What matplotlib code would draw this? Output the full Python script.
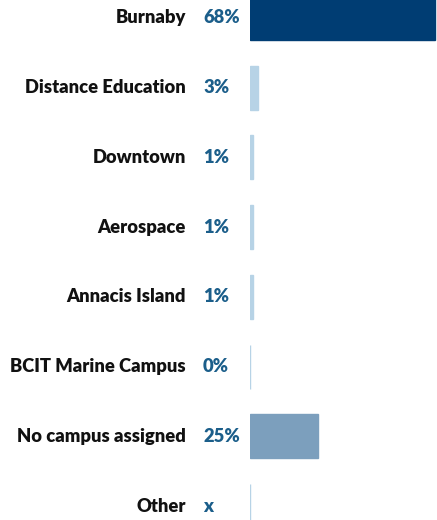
import matplotlib
matplotlib.use("Agg")
import matplotlib.pyplot as plt
import matplotlib.transforms as mtransforms

categories = ["Burnaby", "Distance Education", "Downtown", "Aerospace",
              "Annacis Island", "BCIT Marine Campus", "No campus assigned", "Other"]
values = [68, 3, 1, 1, 1, 0, 25, 0]
value_labels = ["68%", "3%", "1%", "1%", "1%", "0%", "25%", "x"]
bar_colors = ["#003d73", "#b7d3e6", "#b7d3e6", "#b7d3e6", "#b7d3e6",
              "#b7d3e6", "#7c9fbd", "#b7d3e6"]

W, H = 437, 520
fig = plt.figure(figsize=(W / 100, H / 100), dpi=100)
ax = fig.add_axes([250 / W, 0, 1 - 250 / W, 1])

ys = list(range(len(categories)))
ax.barh(ys, values, height=0.63, color=bar_colors, edgecolor=bar_colors,
        linewidth=1.0)
ax.set_xlim(0, 68.75)
ax.set_ylim(7.20, -0.258)
ax.axis("off")

trans = mtransforms.blended_transform_factory(fig.transFigure, ax.transData)
for y, cat, lab in zip(ys, categories, value_labels):
    fig.text(186 / W, y, cat, transform=trans, ha="right", va="center",
             fontsize=13.2, fontweight="heavy", family="Lato", color="#111111")
    fig.text(203 / W, y, lab, transform=trans, ha="left", va="center",
             fontsize=13.2, fontweight="heavy", family="Lato", color="#1b5e8a")

fig.savefig("out.png", dpi=100)
